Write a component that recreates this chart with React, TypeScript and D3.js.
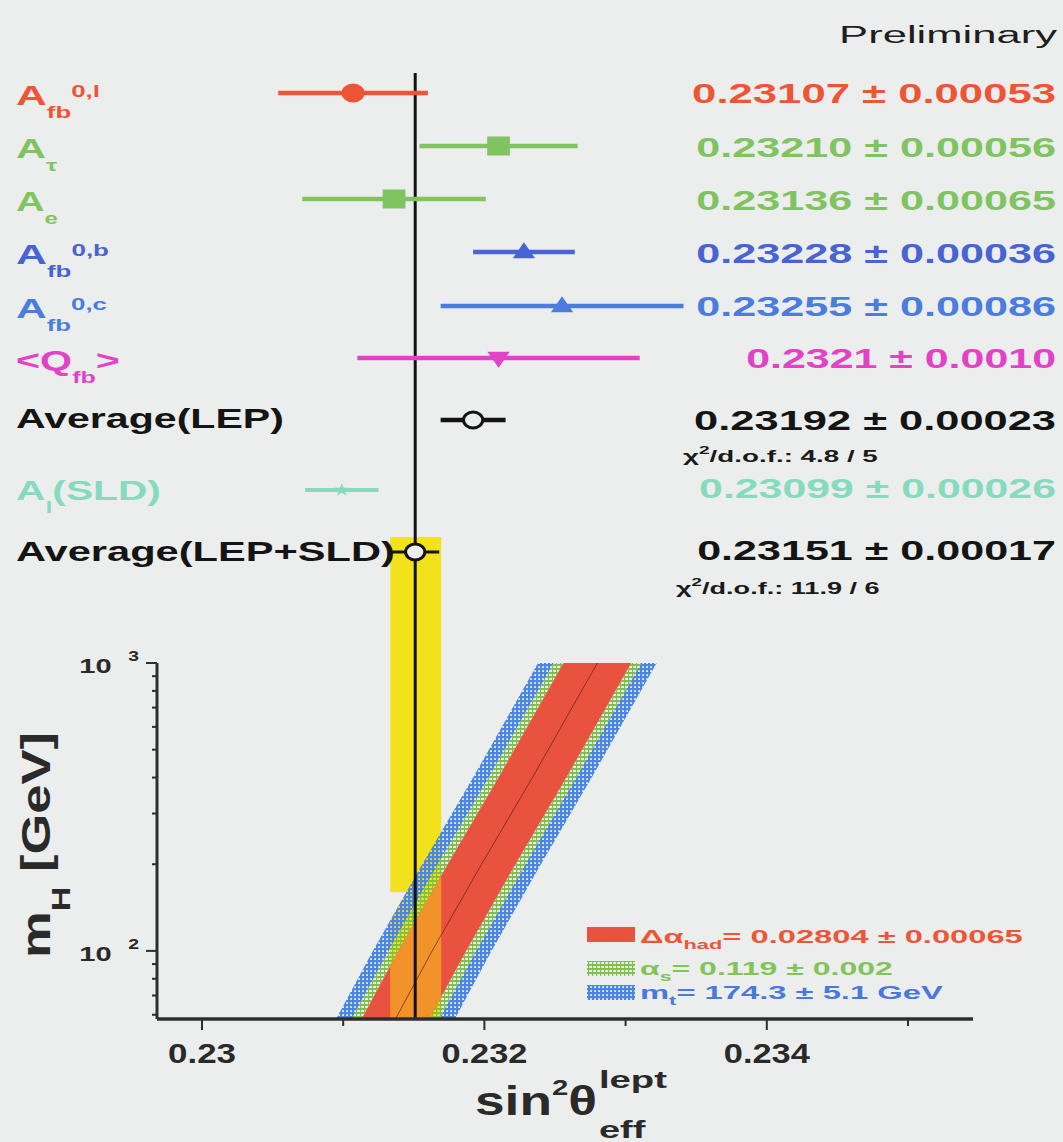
import React, { useLayoutEffect, useRef, useState } from "react";
import * as d3 from "d3";

// ---------------- data ----------------
const rowKeys = ["Afb0l", "Atau", "Ae", "Afb0b", "Afb0c", "Qfb", "AvgLEP", "AlSLD", "AvgAll"];
const rowValues = [0.23107, 0.2321, 0.23136, 0.23228, 0.23255, 0.2321, 0.23192, 0.23099, 0.23151];
const rowErrors = [0.00053, 0.00056, 0.00065, 0.00036, 0.00086, 0.001, 0.00023, 0.00026, 0.00017];
const rowValueTexts = [
  "0.23107 \u00b1 0.00053",
  "0.23210 \u00b1 0.00056",
  "0.23136 \u00b1 0.00065",
  "0.23228 \u00b1 0.00036",
  "0.23255 \u00b1 0.00086",
  "0.2321 \u00b1 0.0010",
  "0.23192 \u00b1 0.00023",
  "0.23099 \u00b1 0.00026",
  "0.23151 \u00b1 0.00017",
];
const labelBase = ["A", "A", "A", "A", "A", "<Q", "Average(LEP)", "A", "Average(LEP+SLD)"];
const labelSub = ["fb", "\u03c4", "e", "fb", "fb", "fb", "", "l", ""];
const labelSup = ["0,l", "", "", "0,b", "0,c", "", "", "", ""];
const labelTail = ["", "", "", "", "", ">", "", "(SLD)", ""];
const rowMarkers = ["circle", "square", "square", "triUp", "triUp", "triDown", "open", "star", "open"];
const rowColors = ["#ee5536", "#80c462", "#80c462", "#4863d2", "#4b7ddf", "#e243c6", "#141414", "#86dbbf", "#141414"];
const chiTexts = [
  { row: 6, text: "/d.o.f.: 4.8 / 5" },
  { row: 8, text: "/d.o.f.: 11.9 / 6" },
];

// mH [GeV] vs sin2theta band
const bandMH = [58, 100, 200, 400, 1000];
const bandCenter = [0.23137, 0.23163, 0.23198, 0.23234, 0.2328];
const redHalf = 0.00024; // delta alpha_had
const greenHalf = 0.00031; // + alpha_s
const blueHalf = 0.00042; // + m_t
const yellowBottomMH = 160;

const xTickValues = [0.23, 0.231, 0.232, 0.233, 0.234, 0.235];
const xTickLabels = ["0.23", "", "0.232", "", "0.234", ""];
const yMajorTicks = [100, 1000];
const yMajorExp = ["2", "3"];
const yMinorTicks = [60, 70, 80, 90, 200, 300, 400, 500, 600, 700, 800, 900];

const legendTexts = [
  { main: "\u0394\u03b1", sub: "had", rest: "= 0.02804 \u00b1 0.00065", color: "#ee5536" },
  { main: "\u03b1", sub: "s", rest: "= 0.119 \u00b1 0.002", color: "#82c35a" },
  { main: "m", sub: "t", rest: "= 174.3 \u00b1 5.1 GeV", color: "#4a78dc" },
];

// ---------------- layout ----------------
const W = 1063;
const H = 1142;
const BG = "#eceeed";
const FONT = '"Liberation Sans", Arial, Helvetica, sans-serif';
const rowY = [93, 146, 199, 252, 306, 358, 420, 490, 552];
const labelW = [84, 42, 42, 93, 91, 104, 268, 145, 379];
const labelDy = [12, 12, 12, 12, 12, 12, 8, 10, 9];
const valueW = [364, 360, 360, 360, 360, 310, 362, 357, 359];
const valueDy = [10, 11, 11, 11, 10, 10, 10, 8, 8];
const legendW = [383, 253, 303];
const legendBase = [943, 975, 999];
const legendSwY = [927, 961, 985];
const MSX = 1.2; // horizontal stretch of markers

function FitText(props: any) {
  const { x, y, width, anchor = "start", rotate = 0, children, ...rest } = props;
  const ref = useRef<SVGTextElement>(null);
  const [sx, setSx] = useState(1);
  useLayoutEffect(() => {
    const el = ref.current;
    if (!el) return;
    const w = el.getBBox().width;
    if (w > 0) setSx(width / w);
  }, [width]);
  return (
    <g transform={`translate(${x},${y})${rotate ? ` rotate(${rotate})` : ""} scale(${sx},1)`}>
      <text ref={ref} textAnchor={anchor} fontFamily={FONT} {...rest}>
        {children}
      </text>
    </g>
  );
}

export default function App() {
  const x = d3.scaleLinear().domain([0.23, 0.235]).range([202, 908]);
  const y = d3.scaleLog().domain([58, 1000]).range([1019, 663]);
  const axisX0 = 157;
  const axisX1 = 973;
  const axisY = y(58);
  const axisTop = y(1000);

  const idx = bandMH.map((_, i) => i);
  const strip = (lo: number, hi: number) =>
    d3
      .area<number>()
      .y((i) => y(bandMH[i]))
      .x0((i) => x(bandCenter[i] + lo))
      .x1((i) => x(bandCenter[i] + hi))(idx) as string;
  const redPath = strip(-redHalf, redHalf);
  const outerPath = strip(-blueHalf, blueHalf);
  const greenL = strip(-greenHalf, -redHalf);
  const greenR = strip(redHalf, greenHalf);
  const blueL = strip(-blueHalf, -greenHalf);
  const blueR = strip(greenHalf, blueHalf);
  const centerLine = d3
    .line<number>()
    .x((i) => x(bandCenter[i]))
    .y((i) => y(bandMH[i]))(idx) as string;

  const avg = rowValues[8];
  const avgErr = rowErrors[8];
  const yx0 = x(avg - avgErr) - 1;
  const yx1 = x(avg + avgErr) + 2;
  const yellowTop = 537;
  const yellowBottom = y(yellowBottomMH);

  const marker = (kind: string, cx: number, cy: number, color: string) => {
    const tr = (extra = "") => `translate(${cx},${cy}) scale(${MSX},1)${extra}`;
    if (kind === "circle") return <path d={d3.symbol(d3.symbolCircle, 290)()!} transform={tr()} fill={color} />;
    if (kind === "square") return <path d={d3.symbol(d3.symbolSquare, 360)()!} transform={tr()} fill={color} />;
    if (kind === "triUp")
      return <path d={d3.symbol(d3.symbolTriangle, 150)()!} transform={`${tr()} translate(0,1)`} fill={color} />;
    if (kind === "triDown")
      return <path d={d3.symbol(d3.symbolTriangle, 150)()!} transform={`${tr()} translate(0,-1) rotate(180)`} fill={color} />;
    if (kind === "star") return <path d={d3.symbol(d3.symbolStar, 55)()!} transform={tr()} fill={color} />;
    return (
      <ellipse cx={cx} cy={cy} rx={8 * MSX} ry={8} fill={BG} stroke={color} strokeWidth={3} />
    );
  };

  return (
    <svg
      width={W}
      height={H}
      viewBox={`0 0 ${W} ${H}`}
      style={{ position: "absolute", left: 0, top: 0, display: "block" }}
    >
      <defs>
        <pattern id="blueHatch" width="4" height="4" patternUnits="userSpaceOnUse">
          <rect x="0" y="0" width="4" height="2.2" fill="#4a86e4" />
          <rect x="0" y="0" width="2.2" height="4" fill="#4a86e4" />
        </pattern>
        <pattern id="greenHatch" width="4" height="4" patternUnits="userSpaceOnUse">
          <rect x="0" y="0" width="4" height="2" fill="#7fbf4a" />
          <rect x="0" y="0" width="1.2" height="4" fill="#7fbf4a" />
        </pattern>
        <clipPath id="redClip">
          <path d={redPath} />
        </clipPath>
        <clipPath id="outerClip">
          <path d={outerPath} />
        </clipPath>
      </defs>
      <rect x={0} y={0} width={W} height={H} fill={BG} />

      {/* Preliminary */}
      <FitText x={1057} y={43} width={218} anchor="end" fontSize={24} fill="#1e1e1e">
        Preliminary
      </FitText>

      {/* yellow band */}
      <rect x={yx0} y={yellowTop} width={yx1 - yx0} height={yellowBottom - yellowTop} fill="#f2e21c" />
      <rect
        x={yx0}
        y={yellowBottom}
        width={yx1 - yx0}
        height={axisY - yellowBottom}
        fill="#f2e21c"
        clipPath="url(#outerClip)"
      />

      {/* theory bands */}
      <path d={blueL} fill="url(#blueHatch)" />
      <path d={blueR} fill="url(#blueHatch)" />
      <path d={greenL} fill="url(#greenHatch)" />
      <path d={greenR} fill="url(#greenHatch)" />
      <path d={redPath} fill="#e9523f" />
      <rect
        x={yx0}
        y={yellowTop}
        width={yx1 - yx0}
        height={axisY - yellowTop}
        fill="#f2922a"
        clipPath="url(#redClip)"
      />
      <path d={centerLine} fill="none" stroke="#5a2418" strokeWidth={1} opacity={0.7} />

      {/* vertical average line */}
      <line x1={x(avg)} x2={x(avg)} y1={73} y2={axisY} stroke="#111" strokeWidth={3} />

      {/* measurements */}
      {rowKeys.map((k, i) => {
        const cy = rowY[i];
        const c = rowColors[i];
        const sw = i === 8 ? 3 : i === 7 ? 4 : 4.5;
        return (
          <g key={k}>
            <line
              x1={x(rowValues[i] - rowErrors[i])}
              x2={x(rowValues[i] + rowErrors[i])}
              y1={cy}
              y2={cy}
              stroke={c}
              strokeWidth={sw}
            />
            {marker(rowMarkers[i], x(rowValues[i]), cy, c)}
            <FitText x={16} y={cy + labelDy[i]} width={labelW[i]} fontSize={i === 6 || i === 8 ? 27 : 28} fontWeight="bold" fill={c}>
              <tspan>{labelBase[i]}</tspan>
              {labelSub[i] ? (
                <tspan dy={13} fontSize={17}>
                  {labelSub[i]}
                </tspan>
              ) : null}
              {labelSup[i] ? (
                <tspan dy={-21} fontSize={17}>
                  {labelSup[i]}
                </tspan>
              ) : null}
              {labelTail[i] ? (
                <tspan dy={-13} fontSize={28}>
                  {labelTail[i]}
                </tspan>
              ) : null}
            </FitText>
            <FitText
              x={1056}
              y={cy + valueDy[i]}
              width={valueW[i]}
              anchor="end"
              fontSize={i === 6 || i === 8 ? 28 : 27}
              fontWeight="bold"
              fill={c}
            >
              {rowValueTexts[i]}
            </FitText>
          </g>
        );
      })}

      {chiTexts.map((t, j) => (
        <FitText
          key={j}
          x={j === 0 ? 683 : 676}
          y={rowY[t.row] + 42}
          width={j === 0 ? 195 : 204}
          fontSize={16}
          fontWeight="bold"
          fill="#1a1a1a"
        >
          <tspan>{"\u03c7"}</tspan>
          <tspan dy={-8} fontSize={11}>
            2
          </tspan>
          <tspan dy={8}>{t.text}</tspan>
        </FitText>
      ))}

      {/* axes */}
      <line x1={axisX0} x2={axisX1} y1={axisY} y2={axisY} stroke="#2e2e2e" strokeWidth={3.5} />
      <line x1={axisX0} x2={axisX0} y1={axisTop} y2={axisY} stroke="#2e2e2e" strokeWidth={3} />
      {xTickValues.map((t, i) => (
        <g key={`xt${i}`}>
          <line
            x1={x(t)}
            x2={x(t)}
            y1={axisY}
            y2={axisY + (xTickLabels[i] ? 11 : 7)}
            stroke="#2e2e2e"
            strokeWidth={2}
          />
          {xTickLabels[i] ? (
            <FitText
              x={x(t)}
              y={1063}
              width={xTickLabels[i].length === 4 ? 68 : 86}
              anchor="middle"
              fontSize={27}
              fontWeight="bold"
              fill="#2a2a2a"
            >
              {xTickLabels[i]}
            </FitText>
          ) : null}
        </g>
      ))}
      {yMinorTicks.map((t) => (
        <line key={`ym${t}`} x1={axisX0 - 5} x2={axisX0} y1={y(t)} y2={y(t)} stroke="#2e2e2e" strokeWidth={2} />
      ))}
      {yMajorTicks.map((t, i) => (
        <g key={`yM${t}`}>
          <line x1={axisX0 - 11} x2={axisX0} y1={y(t)} y2={y(t)} stroke="#2e2e2e" strokeWidth={2} />
          <FitText x={139} y={y(t) + 10} width={60} anchor="end" fontSize={21} fontWeight="bold" fill="#2a2a2a">
            <tspan>10</tspan>
            <tspan dx={12} dy={-12} fontSize={14}>
              {yMajorExp[i]}
            </tspan>
          </FitText>
        </g>
      ))}

      {/* axis titles */}
      <FitText x={50} y={958} rotate={-90} width={226} fontSize={40} fontWeight="bold" fill="#2a2a2a">
        <tspan>m</tspan>
        <tspan dy={20} fontSize={26}>
          H
        </tspan>
        <tspan dy={-20}> [GeV]</tspan>
      </FitText>
      <FitText x={475} y={1115} width={122} fontSize={40} fontWeight="bold" fill="#2a2a2a">
        <tspan>sin</tspan>
        <tspan dy={-20} fontSize={22}>
          2
        </tspan>
        <tspan dy={20}>{"\u03b8"}</tspan>
      </FitText>
      <FitText x={599} y={1088} width={68} fontSize={24} fontWeight="bold" fill="#2a2a2a">
        lept
      </FitText>
      <FitText x={599} y={1138} width={48} fontSize={24} fontWeight="bold" fill="#2a2a2a">
        eff
      </FitText>

      {/* legend */}
      {legendTexts.map((l, i) => (
        <g key={`lg${i}`}>
          <rect
            x={587}
            y={legendSwY[i]}
            width={48}
            height={15}
            fill={i === 0 ? "#e9523f" : i === 1 ? "url(#greenHatch)" : "url(#blueHatch)"}
          />
          <FitText x={640} y={legendBase[i]} width={legendW[i]} fontSize={18} fontWeight="bold" fill={l.color}>
            <tspan>{l.main}</tspan>
            <tspan dy={6} fontSize={12}>
              {l.sub}
            </tspan>
            <tspan dy={-6}>{l.rest}</tspan>
          </FitText>
        </g>
      ))}
    </svg>
  );
}
